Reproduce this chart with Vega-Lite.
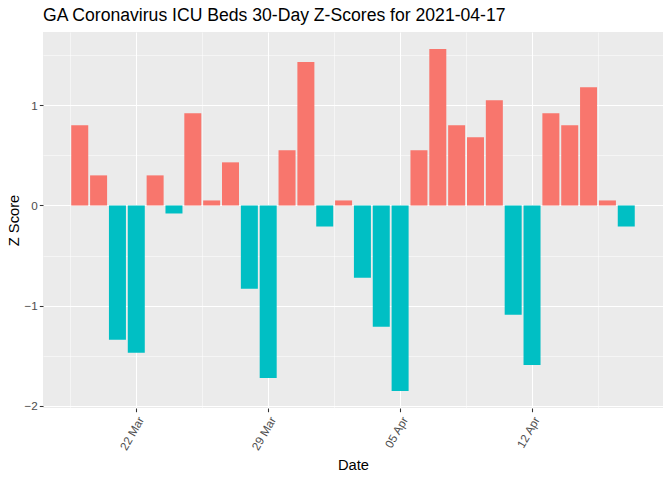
{
  "$schema": "https://vega.github.io/schema/vega-lite/v6.json",
  "width": 620,
  "height": 376,
  "autosize": {"type": "none"},
  "padding": {"left": 43, "top": 32, "right": 9, "bottom": 72},
  "background": "white",
  "config": {
    "font": "Liberation Sans",
    "view": {"fill": "#EBEBEB", "stroke": null}
  },
  "title": {
    "text": "GA Coronavirus ICU Beds 30-Day Z-Scores for 2021-04-17",
    "anchor": "start",
    "frame": "group",
    "fontSize": 17.6,
    "fontWeight": "normal",
    "color": "black",
    "offset": 7
  },
  "data": {
    "values": [
      {"date": "2021-03-19", "z": 0.80},
      {"date": "2021-03-20", "z": 0.30},
      {"date": "2021-03-21", "z": -1.34},
      {"date": "2021-03-22", "z": -1.47},
      {"date": "2021-03-23", "z": 0.30},
      {"date": "2021-03-24", "z": -0.08},
      {"date": "2021-03-25", "z": 0.92},
      {"date": "2021-03-26", "z": 0.05},
      {"date": "2021-03-27", "z": 0.43},
      {"date": "2021-03-28", "z": -0.83},
      {"date": "2021-03-29", "z": -1.72},
      {"date": "2021-03-30", "z": 0.55},
      {"date": "2021-03-31", "z": 1.43},
      {"date": "2021-04-01", "z": -0.21},
      {"date": "2021-04-02", "z": 0.05},
      {"date": "2021-04-03", "z": -0.72},
      {"date": "2021-04-04", "z": -1.21},
      {"date": "2021-04-05", "z": -1.85},
      {"date": "2021-04-06", "z": 0.55},
      {"date": "2021-04-07", "z": 1.56},
      {"date": "2021-04-08", "z": 0.80},
      {"date": "2021-04-09", "z": 0.68},
      {"date": "2021-04-10", "z": 1.05},
      {"date": "2021-04-11", "z": -1.09},
      {"date": "2021-04-12", "z": -1.59},
      {"date": "2021-04-13", "z": 0.92},
      {"date": "2021-04-14", "z": 0.80},
      {"date": "2021-04-15", "z": 1.18},
      {"date": "2021-04-16", "z": 0.05},
      {"date": "2021-04-17", "z": -0.21}
    ]
  },
  "layer": [
    {
      "mark": {"type": "bar", "width": 17},
      "encoding": {
        "x": {
          "field": "date",
          "type": "temporal",
          "scale": {
            "type": "utc",
            "padding": 0,
            "nice": false,
            "domain": [
              {"year": 2021, "month": "mar", "date": 17, "hours": 1, "minutes": 12, "utc": true},
              {"year": 2021, "month": "apr", "date": 18, "hours": 22, "minutes": 48, "utc": true}
            ]
          },
          "axis": {
            "values": [
              {"year": 2021, "month": "mar", "date": 22, "utc": true},
              {"year": 2021, "month": "mar", "date": 29, "utc": true},
              {"year": 2021, "month": "apr", "date": 5, "utc": true},
              {"year": 2021, "month": "apr", "date": 12, "utc": true}
            ],
            "labelExpr": "utcFormat(datum.value, '%d %b')",
            "labelAngle": -60,
            "labelAlign": "right",
            "labelBaseline": "top",
            "labelFontSize": 11.7,
            "labelColor": "#4D4D4D",
            "labelPadding": 3,
            "tickColor": "#333333",
            "tickSize": 3.7,
            "tickWidth": 1.07,
            "domain": false,
            "grid": true,
            "gridColor": "white",
            "gridWidth": 1.07,
            "title": "Date",
            "titleFontSize": 14.7,
            "titleFontWeight": "normal",
            "titleColor": "black",
            "titlePadding": 5
          }
        },
        "y": {
          "field": "z",
          "type": "quantitative",
          "scale": {"domain": [-2.02, 1.73], "nice": false, "zero": false, "padding": 0},
          "axis": {
            "values": [-2, -1, 0, 1],
            "labelFontSize": 11.7,
            "labelColor": "#4D4D4D",
            "labelPadding": 2,
            "tickColor": "#333333",
            "tickSize": 3.7,
            "tickWidth": 1.07,
            "domain": false,
            "grid": true,
            "gridColor": "white",
            "gridWidth": 1.07,
            "title": "Z Score",
            "titleFontSize": 14.7,
            "titleFontWeight": "normal",
            "titleColor": "black",
            "titlePadding": 2
          }
        },
        "color": {
          "condition": {"test": "datum.z >= 0", "value": "#F8766D"},
          "value": "#00BFC4"
        }
      }
    },
    {
      "mark": {"type": "point", "opacity": 0},
      "encoding": {
        "x": {
          "field": "date",
          "type": "temporal",
          "axis": {
            "orient": "top",
            "values": [
              {"year": 2021, "month": "mar", "date": 18, "hours": 12, "utc": true},
              {"year": 2021, "month": "mar", "date": 25, "hours": 12, "utc": true},
              {"year": 2021, "month": "apr", "date": 1, "hours": 12, "utc": true},
              {"year": 2021, "month": "apr", "date": 8, "hours": 12, "utc": true},
              {"year": 2021, "month": "apr", "date": 15, "hours": 12, "utc": true}
            ],
            "labels": false,
            "ticks": false,
            "domain": false,
            "grid": true,
            "gridColor": "white",
            "gridWidth": 0.53,
            "title": null
          }
        },
        "y": {
          "field": "z",
          "type": "quantitative",
          "axis": {
            "orient": "right",
            "values": [-1.5, -0.5, 0.5, 1.5],
            "labels": false,
            "ticks": false,
            "domain": false,
            "grid": true,
            "gridColor": "white",
            "gridWidth": 0.53,
            "title": null
          }
        }
      }
    }
  ],
  "resolve": {"axis": {"x": "independent", "y": "independent"}}
}
